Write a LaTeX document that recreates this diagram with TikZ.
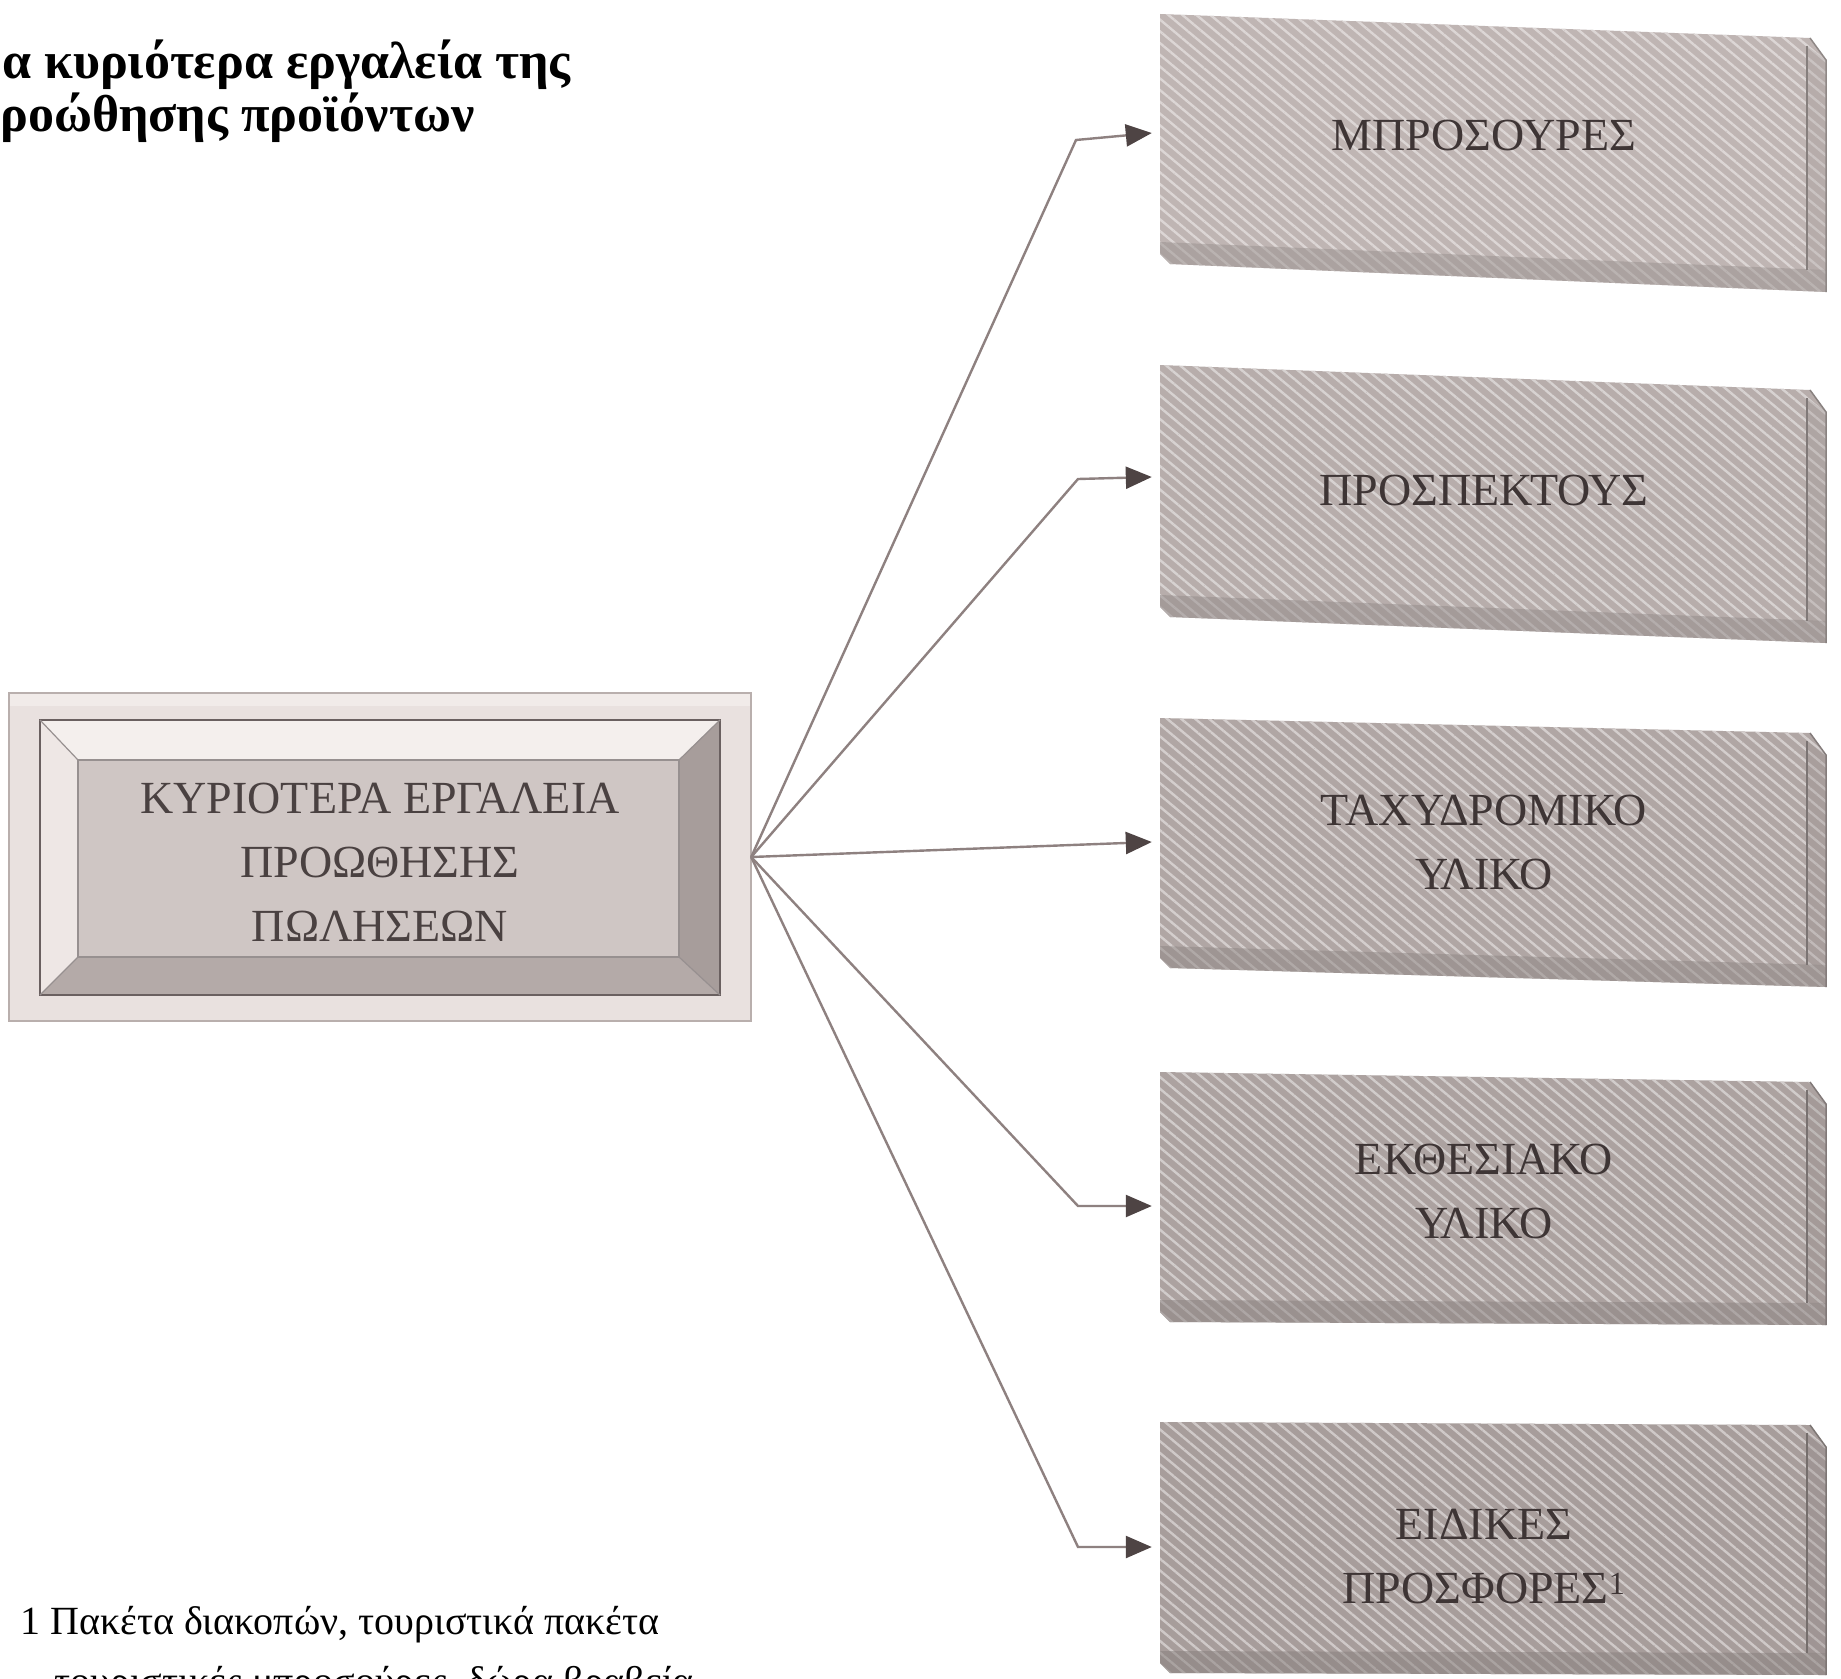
\documentclass[tikz,border=0pt]{standalone}
\usepackage{fontspec}
\setmainfont{Liberation Serif}
\usetikzlibrary{arrows.meta,patterns.meta}

\definecolor{linkc}{HTML}{8E8180}
\definecolor{headc}{HTML}{4E4444}
\definecolor{labc}{HTML}{3E3535}
\definecolor{hubtext}{HTML}{4A4141}
\definecolor{hubouter}{HTML}{E9E1DF}
\definecolor{hubline}{HTML}{B9AFAD}
\definecolor{bevlight}{HTML}{F4EFED}
\definecolor{bevleft}{HTML}{EEE7E5}
\definecolor{bevright}{HTML}{A79D9B}
\definecolor{bevbottom}{HTML}{B4AAA8}
\definecolor{hubface}{HTML}{CFC6C4}
\definecolor{frameline}{HTML}{6A6060}
\definecolor{slabA}{HTML}{BFB5B3}
\definecolor{slabB}{HTML}{B7ADAB}
\definecolor{slabC}{HTML}{B0A6A4}
\definecolor{slabD}{HTML}{ACA2A0}
\definecolor{slabE}{HTML}{A79D9B}

% one slab: #1 top-left y, #2 bottom-left y, #3 drop of the top edge at the right,
% #4 drop of the bottom edge at the right, #5 face colour
\newcommand{\drawslab}[5]{%
  \fill[#5] (1160,#1) -- (1810,#1+#3) -- (1826,#1+#3+22) -- (1826,#2+#4)
     -- (1170,#2) -- (1160,#2-10) -- cycle;
  \fill[pattern={Lines[angle=-40,distance=9pt,line width=2.4pt]},pattern color=#5!55!white]
     (1160,#1) -- (1810,#1+#3) -- (1826,#1+#3+22) -- (1826,#2+#4)
     -- (1170,#2) -- (1160,#2-10) -- cycle;
  % bottom side face
  \fill[#5!80!black,opacity=0.5] (1160,#2-22) -- (1826,#2+#4-22) -- (1826,#2+#4)
     -- (1170,#2) -- (1160,#2-10) -- cycle;
  % right side face
  \fill[#5!85!black,opacity=0.3] (1807,#1+#3+8) -- (1826,#1+#3+22) -- (1826,#2+#4-22)
     -- (1807,#2+#4-22) -- cycle;
  \draw[#5!70!black,line width=1.2pt] (1807,#1+#3+8) -- (1807,#2+#4-22);
  \draw[#5!75!black,line width=1.5pt] (1810,#1+#3) -- (1826,#1+#3+22) -- (1826,#2+#4);
}

\tikzset{
  conn/.style={draw=linkc, line width=2.4pt, line join=miter,
    -{Triangle[length=26pt,width=22pt,color=headc]}},
  boxlabel/.style={text=labc, align=center, inner sep=0pt,
    font=\fontsize{46}{64}\selectfont, minimum width=664pt, minimum height=40pt},
  hubbox/.style={text=hubtext, align=center, inner sep=0pt,
    font=\fontsize{46}{64}\selectfont, minimum width=742pt, minimum height=328pt},
  titletext/.style={anchor=base west, inner sep=0pt, text=black,
    font=\fontsize{52}{60}\selectfont\bfseries},
  notetext/.style={anchor=base west, inner sep=0pt, text=black,
    font=\fontsize{40}{46}\selectfont},
}

\begin{document}
\begin{tikzpicture}[x=1pt,y=-1pt]
\useasboundingbox (0,0) rectangle (1841,1678);
\fill[white] (0,0) rectangle (1841,1678);

% heading, cut at the left page edge
\node[titletext] (title1) at (2,78) {α κυριότερα εργαλεία της};
\node[titletext] (title2) at (0,131) {ροώθησης προϊόντων};

% bevelled central box
\fill[hubouter] (9,693) rectangle (751,1021);
\fill[bevlight!70!hubouter] (9,693) rectangle (751,706);
\draw[hubline,line width=1.5pt] (9,693) rectangle (751,1021);
\fill[bevlight]  (40,720) -- (720,720) -- (679,760) -- (78,760) -- cycle;
\fill[bevleft]   (40,720) -- (78,760) -- (78,957) -- (40,995) -- cycle;
\fill[bevright]  (720,720) -- (720,995) -- (679,957) -- (679,760) -- cycle;
\fill[bevbottom] (40,995) -- (720,995) -- (679,957) -- (78,957) -- cycle;
\fill[hubface] (78,760) rectangle (679,957);
\draw[frameline,line width=2pt] (40,720) rectangle (720,995);
\draw[frameline!70!white,line width=1.2pt] (78,760) rectangle (679,957);
\draw[frameline!70!white,line width=1.2pt]
  (40,720) -- (78,760) (720,720) -- (679,760) (40,995) -- (78,957) (720,995) -- (679,957);
\node[hubbox] (hub) at (380,862) {ΚΥΡΙΟΤΕΡΑ ΕΡΓΑΛΕΙΑ\\ΠΡΟΩΘΗΣΗΣ\\ΠΩΛΗΣΕΩΝ};
\coordinate (hubport) at ([yshift=5pt]hub.east);

% five slabs on the right
\drawslab{14}{264}{24}{28}{slabA}
\drawslab{365}{617}{25}{26}{slabB}
\drawslab{718}{968}{15}{19}{slabC}
\drawslab{1072}{1322}{10}{3}{slabD}
\drawslab{1422}{1673}{3}{2}{slabE}

\node[boxlabel] (b1) at (1484,135) {ΜΠΡΟΣΟΥΡΕΣ};
\node[boxlabel] (b2) at (1484,490) {ΠΡΟΣΠΕΚΤΟΥΣ};
\node[boxlabel] (b3) at (1484,842) {ΤΑΧΥΔΡΟΜΙΚΟ\\ΥΛΙΚΟ};
\node[boxlabel] (b4) at (1484,1191) {ΕΚΘΕΣΙΑΚΟ\\ΥΛΙΚΟ};
\node[boxlabel] (b5) at (1484,1557) {ΕΙΔΙΚΕΣ\\ΠΡΟΣΦΟΡΕΣ\textsuperscript{1}};

% bends of the connectors
\coordinate (e1) at (1076,140);
\coordinate (e2) at (1078,479);
\coordinate (e4) at (1078,1206);
\coordinate (e5) at (1078,1547);

\draw[conn] (hubport) -- (e1) -- ([yshift=2pt]b1.west);
\draw[conn] (hubport) -- (e2) -- ([yshift=13pt]b2.west);
\draw[conn] (hubport) -- (b3.west);
\draw[conn] (hubport) -- (e4) -- ([yshift=-15pt]b4.west);
\draw[conn] (hubport) -- (e5) -- ([yshift=10pt]b5.west);

% footnote
\node[notetext] (note1) at (20,1634) {1 Πακέτα διακοπών, τουριστικά πακέτα};
\node[notetext] (note2) at (54,1694) {τουριστικές μπροσούρες, δώρα βραβεία};
\end{tikzpicture}
\end{document}
